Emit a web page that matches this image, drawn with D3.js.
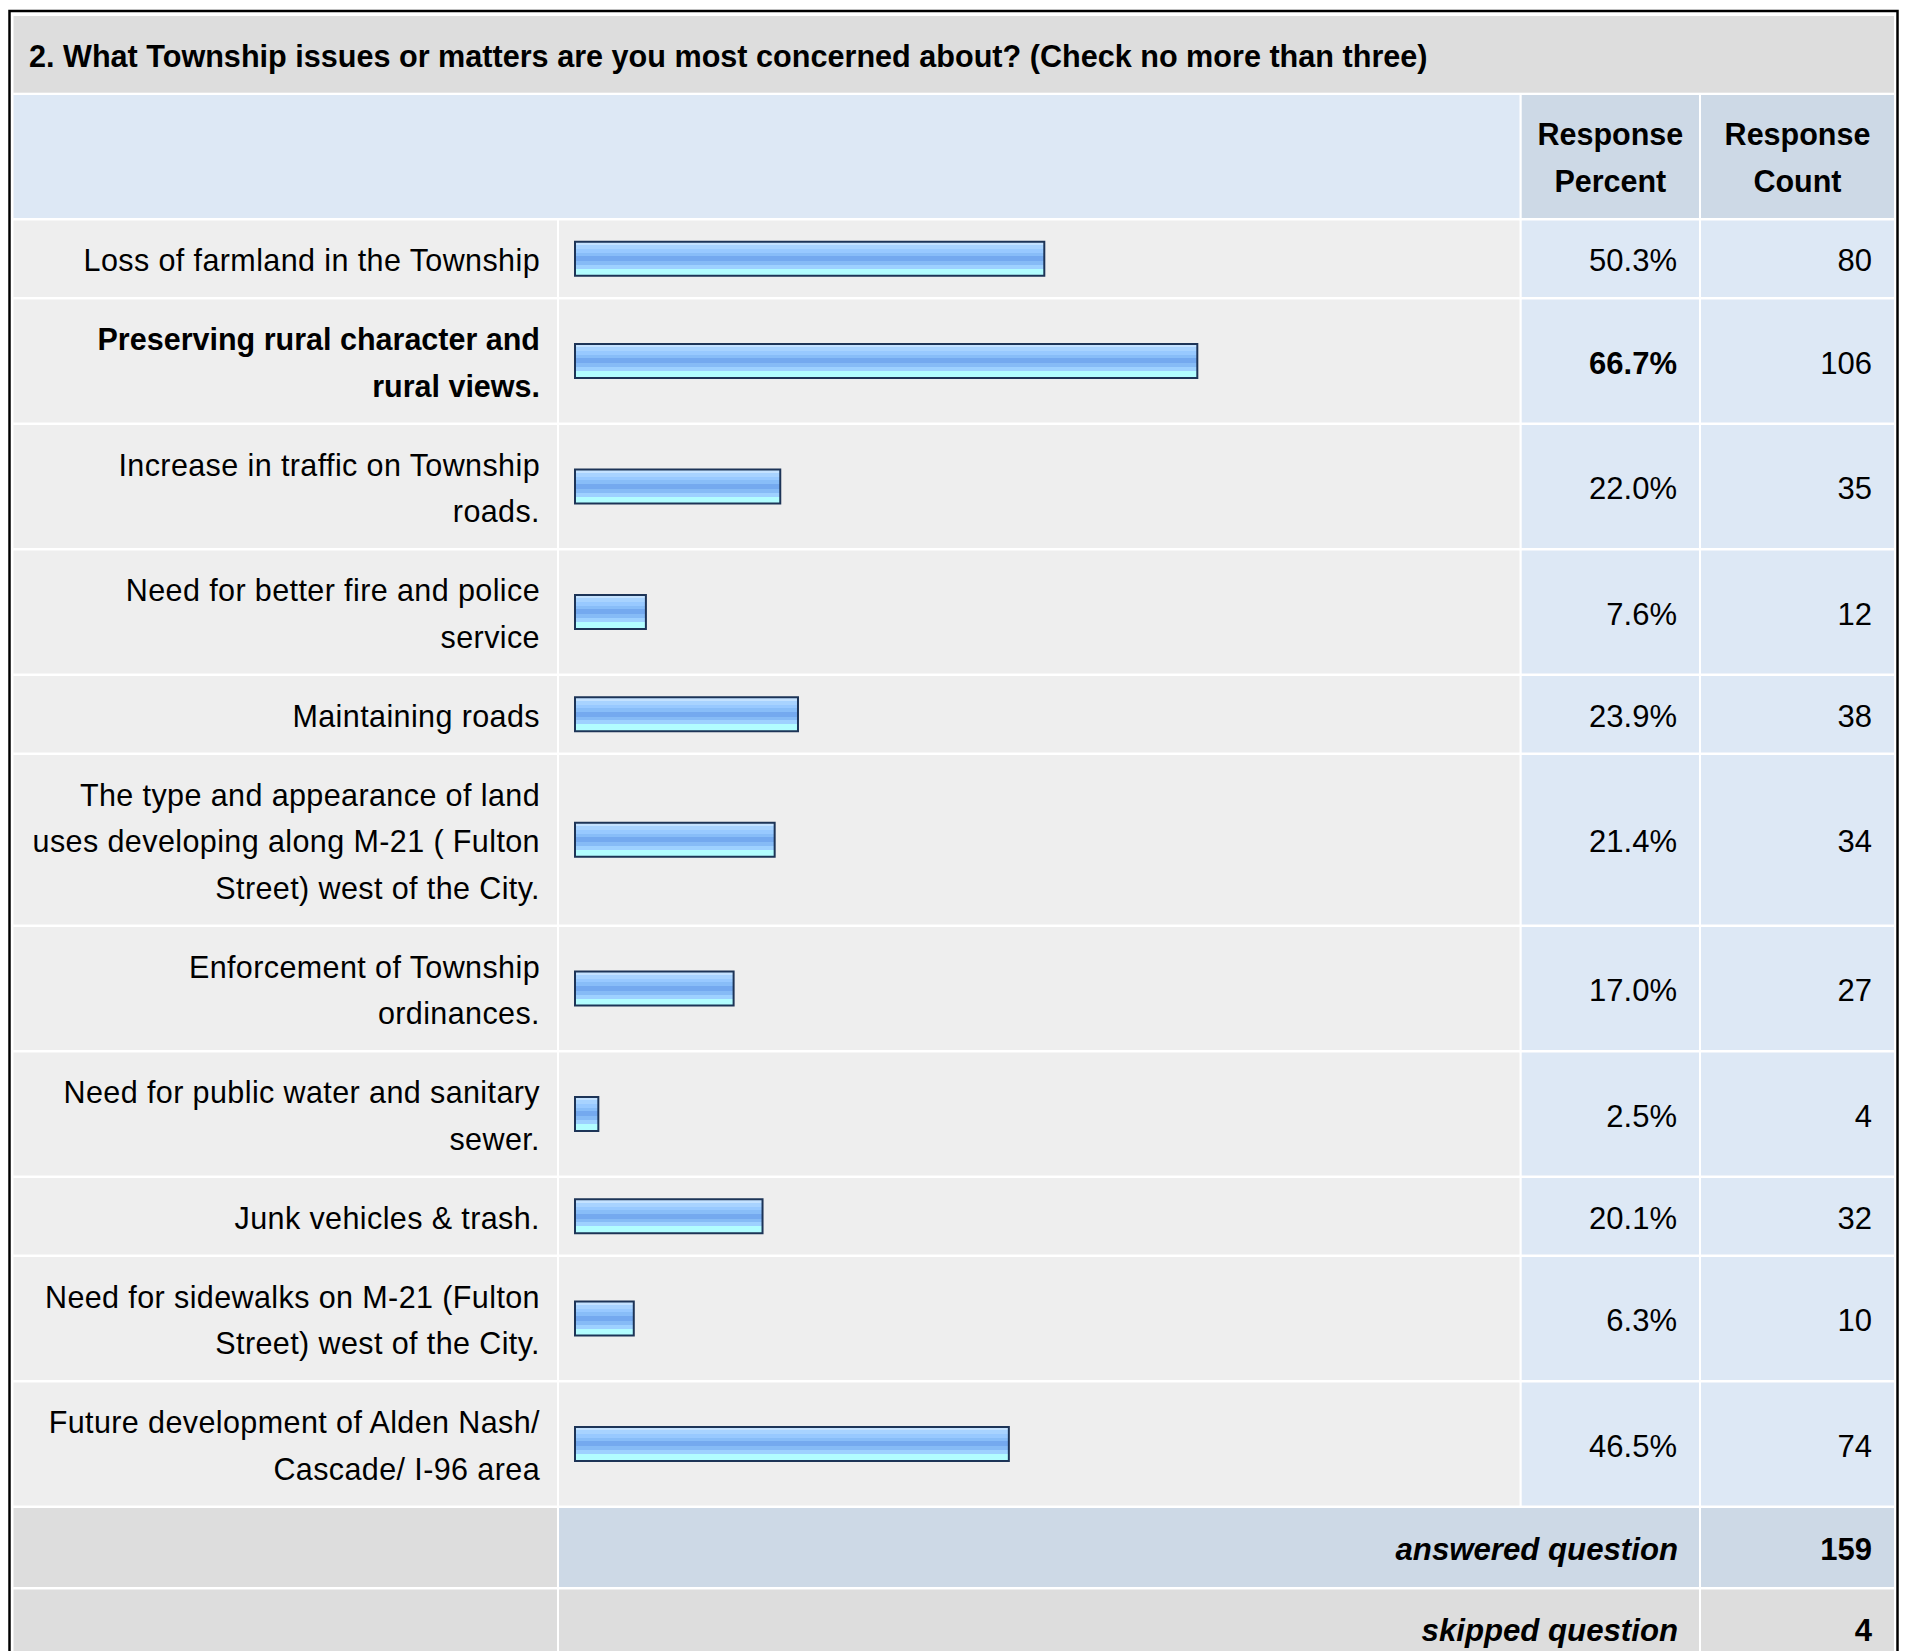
<!DOCTYPE html>
<html>
<head>
<meta charset="utf-8">
<script src="https://cdn.jsdelivr.net/npm/d3@7"></script>
<style>
  body { margin: 0; background: white; overflow: hidden; }
  svg text { font-family: "Liberation Sans", Arial, Helvetica, sans-serif; fill: #000; }
</style>
</head>
<body>
<svg width="1909" height="1651"></svg>
<script>
const questionTitle = '2. What Township issues or matters are you most concerned about? (Check no more than three)';
const headerPercent = ['Response', 'Percent'];
const headerCount = ['Response', 'Count'];

const categories = [
	['Loss of farmland in the Township'],
	['Preserving rural character and', 'rural views.'],
	['Increase in traffic on Township', 'roads.'],
	['Need for better fire and police', 'service'],
	['Maintaining roads'],
	['The type and appearance of land', 'uses developing along M-21 ( Fulton', 'Street) west of the City.'],
	['Enforcement of Township', 'ordinances.'],
	['Need for public water and sanitary', 'sewer.'],
	['Junk vehicles & trash.'],
	['Need for sidewalks on M-21 (Fulton', 'Street) west of the City.'],
	['Future development of Alden Nash/', 'Cascade/ I-96 area']
];
const percents = [50.3, 66.7, 22.0, 7.6, 23.9, 21.4, 17.0, 2.5, 20.1, 6.3, 46.5];
const counts = [80, 106, 35, 12, 38, 34, 27, 4, 32, 10, 74];

const summaryLabels = ['answered question', 'skipped question'];
const summaryCounts = [159, 4];

const svg = d3.select('svg');
const width = +svg.attr('width');
const height = +svg.attr('height');

// table geometry
const tableLeft = 13.5, tableRight = 1894;
const labelEnd = 557, barStart = 559, barEnd = 1519.5;
const pctStart = 1521.7, pctEnd = 1699, cntStart = 1701;
const gap = 2.5, lineH = 46.5, baseRowH = 76.5;

const grey = '#dddddd', light = '#eeeeee', paleBlue = '#dde8f5', headBlue = '#cdd9e6';

const maxIdx = d3.maxIndex(percents);

// gradient for the bars
const defs = svg.append('defs');
const grad = defs.append('linearGradient')
	.attr('id', 'barFill')
	.attr('x1', 0).attr('y1', 0).attr('x2', 0).attr('y2', 1);
const bands = [
	[0, '#c4e2ff'], [0.1, '#a8d3ff'], [0.22, '#98c9ff'], [0.32, '#88bdf8'],
	[0.42, '#74a9ef'], [0.57, '#86bbf6'], [0.68, '#9ed1ff'], [0.8, '#b2fdff']
];
bands.forEach((b, i) => {
	const end = i < bands.length - 1 ? bands[i + 1][0] : 1;
	grad.append('stop').attr('offset', b[0]).attr('stop-color', b[1]);
	grad.append('stop').attr('offset', end).attr('stop-color', b[1]);
});

const cell = (x0, x1, y0, h, fill) =>
	svg.append('rect')
		.attr('x', x0).attr('y', y0)
		.attr('width', x1 - x0).attr('height', h)
		.attr('fill', fill);

// title row
cell(tableLeft, tableRight, 16, 76.7, grey);
svg.append('text')
	.attr('x', 29).attr('y', 67)
	.attr('font-size', 30.6).attr('font-weight', 'bold')
	.text(questionTitle);

// header row
const headTop = 95, headH = 123;
cell(tableLeft, barEnd, headTop, headH, paleBlue);
cell(pctStart, pctEnd, headTop, headH, headBlue);
cell(cntStart, tableRight, headTop, headH, headBlue);

[[headerPercent, (pctStart + pctEnd) / 2], [headerCount, (cntStart + tableRight) / 2]].forEach(([lines, cx]) => {
	svg.append('text')
		.attr('text-anchor', 'middle')
		.attr('font-size', 30.5).attr('font-weight', 'bold')
		.selectAll('tspan')
		.data(lines)
		.join('tspan')
			.attr('x', cx)
			.attr('y', (d, i) => headTop + headH / 2 + 12 + (i - (lines.length - 1) / 2) * lineH)
			.text(d => d);
});

// row positions
const rows = [];
let rowTop = headTop + headH + gap;
categories.forEach((lines, i) => {
	const h = baseRowH + (lines.length - 1) * lineH;
	rows.push({ lines, pct: percents[i], count: counts[i], y0: rowTop, h, bold: i === maxIdx });
	rowTop += h + gap;
});

const x = d3.scaleLinear()
	.domain([0, 100])
	.range([0, 933]);

const rowG = svg.selectAll('g.row')
	.data(rows)
	.join('g')
		.attr('class', 'row')
		.attr('transform', d => `translate(0,${d.y0})`);

rowG.append('rect').attr('x', tableLeft).attr('width', labelEnd - tableLeft).attr('height', d => d.h).attr('fill', light);
rowG.append('rect').attr('x', barStart).attr('width', barEnd - barStart).attr('height', d => d.h).attr('fill', light);
rowG.append('rect').attr('x', pctStart).attr('width', pctEnd - pctStart).attr('height', d => d.h).attr('fill', paleBlue);
rowG.append('rect').attr('x', cntStart).attr('width', tableRight - cntStart).attr('height', d => d.h).attr('fill', paleBlue);

rowG.append('text')
	.attr('text-anchor', 'end')
	.attr('font-size', 30.5)
	.attr('letter-spacing', d => d.bold ? 0 : 0.4)
	.attr('font-weight', d => d.bold ? 'bold' : 'normal')
	.selectAll('tspan')
	.data(d => d.lines.map((t, i) => ({ t, y: d.h / 2 + 12.5 + (i - (d.lines.length - 1) / 2) * lineH })))
	.join('tspan')
		.attr('x', 540)
		.attr('y', d => d.y)
		.text(d => d.t);

rowG.append('rect')
	.attr('x', 575)
	.attr('y', d => d.h / 2 - 17)
	.attr('width', d => x(d.pct))
	.attr('height', 34)
	.attr('fill', 'url(#barFill)')
	.attr('stroke', '#1d3457')
	.attr('stroke-width', 2);

rowG.append('text')
	.attr('x', 1677)
	.attr('y', d => d.h / 2 + 12.5)
	.attr('text-anchor', 'end')
	.attr('font-size', 31)
	.attr('font-weight', d => d.bold ? 'bold' : 'normal')
	.text(d => d3.format('.1f')(d.pct) + '%');

rowG.append('text')
	.attr('x', 1872)
	.attr('y', d => d.h / 2 + 12.5)
	.attr('text-anchor', 'end')
	.attr('font-size', 31)
	.text(d => d.count);

// answered / skipped rows
const sumH = 79;
summaryLabels.forEach((lab, i) => {
	const y0 = rowTop + i * (sumH + gap);
	const mid = i === 0 ? headBlue : grey;
	cell(tableLeft, labelEnd, y0, sumH, grey);
	cell(barStart, pctEnd, y0, sumH, mid);
	cell(cntStart, tableRight, y0, sumH, mid);
	svg.append('text')
		.attr('x', 1678).attr('y', y0 + sumH / 2 + 12)
		.attr('text-anchor', 'end')
		.attr('font-size', 31.2).attr('font-weight', 'bold').attr('font-style', 'italic')
		.text(lab);
	svg.append('text')
		.attr('x', 1872).attr('y', y0 + sumH / 2 + 12)
		.attr('text-anchor', 'end')
		.attr('font-size', 31).attr('font-weight', 'bold')
		.text(summaryCounts[i]);
});

// outer frame
svg.append('rect')
	.attr('x', 9.5).attr('y', 11)
	.attr('width', 1888).attr('height', height + 50)
	.attr('fill', 'none')
	.attr('stroke', 'black')
	.attr('stroke-width', 2.5);
</script>
</body>
</html>
